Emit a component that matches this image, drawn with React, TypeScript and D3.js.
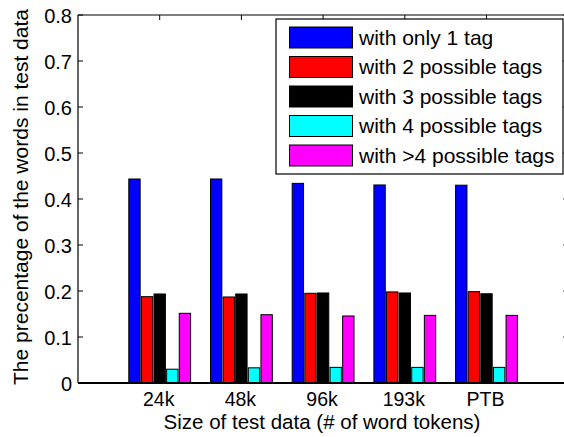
import React from "react";
import * as d3 from "d3";

const categories = ["24k", "48k", "96k", "193k", "PTB"];
const seriesNames = [
  "with only 1 tag",
  "with 2 possible tags",
  "with 3 possible tags",
  "with 4 possible tags",
  "with >4 possible tags",
];
const seriesColors = ["#0000ff", "#ff0000", "#000000", "#00ffff", "#ff00ff"];

// one array per series, one value per category
const only1 = [0.4435, 0.4435, 0.434, 0.4305, 0.430];
const tags2 = [0.1877, 0.187, 0.195, 0.198, 0.1986];
const tags3 = [0.1935, 0.1935, 0.1957, 0.1957, 0.194];
const tags4 = [0.030, 0.033, 0.034, 0.034, 0.034];
const tagsMore = [0.1515, 0.1485, 0.1457, 0.147, 0.147];

const yTicks = [0, 0.1, 0.2, 0.3, 0.4, 0.5, 0.6, 0.7, 0.8];

const width = 564;
const height = 437;
const left = 78;
const right = 568.2;
const top = 15;
const bottom = 383;
const font = "'Liberation Sans', Arial, Helvetica, sans-serif";

export default function App() {
  const series = [only1, tags2, tags3, tags4, tagsMore];

  const x = d3.scaleLinear().domain([0, categories.length + 1]).range([left, right]);
  const y = d3.scaleLinear().domain([0, 0.8]).range([bottom, top]);
  const step = x(1) - x(0);
  const inner = d3
    .scaleBand<number>()
    .domain(d3.range(series.length))
    .range([-0.386 * step, 0.386 * step])
    .paddingInner(0.1)
    .paddingOuter(0.05);

  const tick = 5;

  return (
    <svg
      width={width}
      height={height}
      style={{ position: "absolute", left: 0, top: 0, background: "#fff" }}
      fontFamily={font}
    >
      <rect x={0} y={0} width={width} height={height} fill="#fff" />

      {/* bars */}
      {categories.map((c, i) => (
        <g key={c} transform={`translate(${x(i + 1)},0)`}>
          {series.map((vals, s) => (
            <rect
              key={s}
              x={inner(s)!}
              y={y(vals[i])}
              width={inner.bandwidth()}
              height={y(0) - y(vals[i])}
              fill={seriesColors[s]}
              stroke="#000"
              strokeWidth={1}
            />
          ))}
        </g>
      ))}

      {/* axes box */}
      <line x1={left} x2={right} y1={top} y2={top} stroke="#000" strokeWidth={1.2} />
      <line x1={left} x2={left} y1={top} y2={bottom} stroke="#000" strokeWidth={1.2} />
      <line x1={right} x2={right} y1={top} y2={bottom} stroke="#000" strokeWidth={1.2} />
      <line x1={left} x2={right} y1={bottom} y2={bottom} stroke="#000" strokeWidth={2} />

      {/* y ticks */}
      {yTicks.map((t) => (
        <g key={t}>
          <line x1={left} x2={left + tick} y1={y(t)} y2={y(t)} stroke="#000" />
          <line x1={right} x2={right - tick} y1={y(t)} y2={y(t)} stroke="#000" />
          <text x={left - 6} y={y(t) + 8} textAnchor="end" fontSize={20}>
            {d3.format("")(t)}
          </text>
        </g>
      ))}

      {/* x ticks */}
      {categories.map((c, i) => (
        <g key={c}>
          <line x1={x(i + 1)} x2={x(i + 1)} y1={top} y2={top + tick} stroke="#000" />
          <line x1={x(i + 1)} x2={x(i + 1)} y1={bottom} y2={bottom - tick} stroke="#000" />
          <text x={x(i + 1) - 1} y={405.5} textAnchor="middle" fontSize={19.5}>
            {c}
          </text>
        </g>
      ))}

      {/* axis labels */}
      <text x={322} y={428.5} textAnchor="middle" fontSize={20.5}>
        Size of test data (# of word tokens)
      </text>
      <text
        transform={`translate(28,${(top + bottom) / 2 - 2}) rotate(-90)`}
        textAnchor="middle"
        fontSize={21}
      >
        The precentage of the words in test data
      </text>

      {/* legend */}
      <g>
        <rect x={276} y={19} width={287} height={155} fill="#fff" stroke="#000" strokeWidth={1.2} />
        {seriesNames.map((name, s) => {
          const cy = 37.5 + s * 29.5;
          return (
            <g key={name}>
              <rect x={289.5} y={cy - 10.5} width={63} height={21} fill={seriesColors[s]} stroke="#000" />
              <text x={359} y={cy + 7} fontSize={21}>
                {name}
              </text>
            </g>
          );
        })}
      </g>
    </svg>
  );
}
